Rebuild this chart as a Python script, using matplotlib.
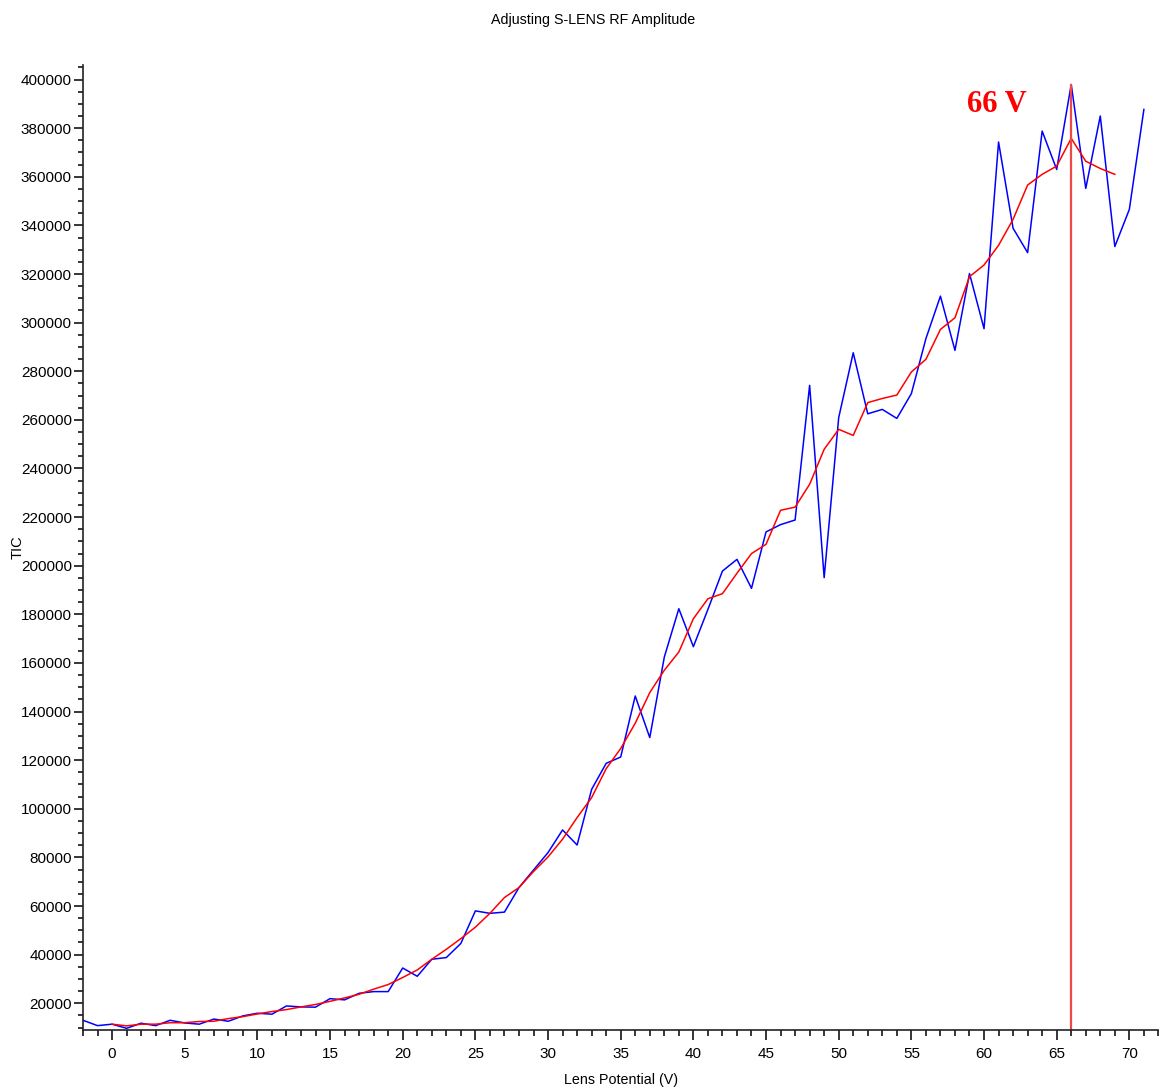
import numpy as np
import matplotlib
matplotlib.use('Agg')
import matplotlib.pyplot as plt
from matplotlib.ticker import MultipleLocator

plt.rcParams['font.family'] = ['Liberation Sans', 'DejaVu Sans']

# lens potential (V) and TIC
volts_raw = np.arange(-2, 72)
tic_raw = [13000, 10800, 11400, 9700, 11800, 10800, 13000, 11900, 11400, 13500,
           12600, 14800, 15900, 15500, 18900, 18500, 18400, 21900, 21400, 24100,
           24800, 24800, 34500, 31100, 38100, 38800, 44600, 58000, 57000, 57500,
           67600, 74800, 82000, 91300, 85100, 108000, 118700, 121300, 146400, 129300,
           162400, 182300, 166700, 182000, 197800, 202600, 190700, 213900, 216900, 218800,
           274200, 195100, 260900, 287600, 262500, 264300, 260600, 270800, 293400, 310900,
           288600, 320200, 297500, 374300, 338800, 328800, 378800, 363000, 398000, 355200,
           385000, 331300, 346600, 387700]

volts_smooth = np.arange(0, 70)
tic_smooth = [11400, 10700, 11400, 11400, 12000, 12000, 12500, 12600, 13700, 14500,
              15600, 16600, 17400, 18500, 19500, 20800, 22200, 23700, 25800, 27700,
              30600, 33700, 38100, 42200, 46600, 51300, 57000, 63500, 67600, 74200,
              80200, 87500, 96400, 104600, 116500, 124800, 135200, 147800, 157000, 164500,
              178200, 186400, 188500, 196900, 205000, 208800, 222800, 224100, 233500, 247900,
              256100, 253600, 267100, 268800, 270200, 279700, 284900, 297200, 302000, 318900,
              323700, 331800, 342500, 356600, 361000, 364400, 375800, 366400, 363400, 361000]

best_volt = 66
best_label = '66 V'

fig = plt.figure(figsize=(11.59, 10.88), dpi=100)
ax = fig.add_axes([0.0716, 0.0533, 0.9279, 0.887])

ax.plot(volts_raw, tic_raw, color='#0000ff', lw=1.1)
ax.plot(volts_smooth, tic_smooth, color='#ff0000', lw=1.1)

ymin = 9000
ax.vlines(best_volt, ymin, max(tic_raw), color='#f04848', lw=1.6)
ax.text(60.9, 389800, best_label, color='#ff0000', fontsize=22, fontweight='bold',
        family=['Liberation Serif', 'DejaVu Serif'], ha='center', va='center')

ax.set_xlim(-2, 72)
ax.set_ylim(ymin, 406000)

ax.xaxis.set_major_locator(MultipleLocator(5))
ax.xaxis.set_minor_locator(MultipleLocator(1))
ax.yaxis.set_major_locator(MultipleLocator(20000))
ax.yaxis.set_minor_locator(MultipleLocator(5000))

for s in ['top', 'right']:
    ax.spines[s].set_visible(False)
for s in ['left', 'bottom']:
    ax.spines[s].set_linewidth(1.2)
    ax.spines[s].set_color('#222222')

ax.tick_params(axis='x', which='major', length=7, width=1.1, pad=5, labelsize=11, direction='out')
ax.tick_params(axis='x', which='minor', length=4.5, width=1.1, direction='out')
ax.tick_params(axis='y', which='major', length=6.5, width=1.1, pad=1.5, labelsize=11, direction='out')
ax.tick_params(axis='y', which='minor', length=3.8, width=1.1, direction='out')

ax.set_xlabel('Lens Potential (V)', fontsize=10.3, labelpad=9)
ax.set_ylabel('TIC', fontsize=10.5, labelpad=-3)
fig.text(0.5117, 0.9815, 'Adjusting S-LENS RF Amplitude', fontsize=10.3, ha='center', va='center')

fig.savefig('out.png', dpi=100)
